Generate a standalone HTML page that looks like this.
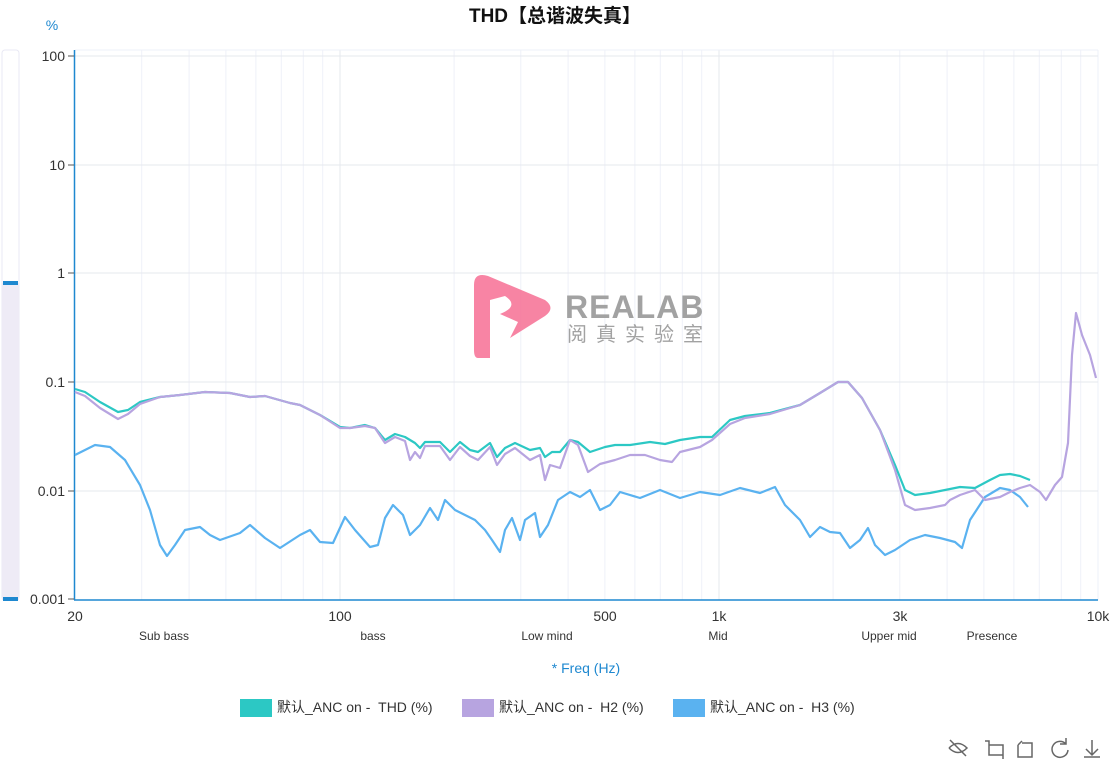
<!DOCTYPE html>
<html><head><meta charset="utf-8"><style>
body{margin:0;background:#fff;font-family:"Liberation Sans","Noto Sans CJK SC",sans-serif;}
</style></head><body>
<svg width="1110" height="767" xmlns="http://www.w3.org/2000/svg" font-family="Liberation Sans, Noto Sans CJK SC, sans-serif">
<text x="555" y="22" text-anchor="middle" font-size="19" font-weight="bold" fill="#111">THD【总谐波失真】</text>
<text x="52" y="30" text-anchor="middle" font-size="14" fill="#1e88d0">%</text>
<rect x="2" y="50" width="17" height="550" rx="3" fill="#fff" stroke="#e8e8f4"/>
<rect x="2" y="283" width="17" height="317" fill="#eeebf6"/>
<rect x="3" y="281" width="15" height="4" fill="#1e88d0"/>
<rect x="3" y="597" width="15" height="4" fill="#1e88d0"/>
<g stroke="#eef1f8" stroke-width="1">
<line x1="141.7" y1="50" x2="141.7" y2="600"/><line x1="189.1" y1="50" x2="189.1" y2="600"/><line x1="225.9" y1="50" x2="225.9" y2="600"/><line x1="255.9" y1="50" x2="255.9" y2="600"/><line x1="281.3" y1="50" x2="281.3" y2="600"/><line x1="303.3" y1="50" x2="303.3" y2="600"/><line x1="322.7" y1="50" x2="322.7" y2="600"/><line x1="340" y1="50" x2="340" y2="600" stroke="#e6e8ee"/>
<line x1="454.1" y1="50" x2="454.1" y2="600"/><line x1="520.8" y1="50" x2="520.8" y2="600"/><line x1="568.1" y1="50" x2="568.1" y2="600"/><line x1="604.9" y1="50" x2="604.9" y2="600"/><line x1="634.9" y1="50" x2="634.9" y2="600"/><line x1="660.3" y1="50" x2="660.3" y2="600"/><line x1="682.3" y1="50" x2="682.3" y2="600"/><line x1="701.7" y1="50" x2="701.7" y2="600"/><line x1="719" y1="50" x2="719" y2="600" stroke="#e6e8ee"/>
<line x1="833.1" y1="50" x2="833.1" y2="600"/><line x1="899.8" y1="50" x2="899.8" y2="600"/><line x1="947.1" y1="50" x2="947.1" y2="600"/><line x1="983.9" y1="50" x2="983.9" y2="600"/><line x1="1013.9" y1="50" x2="1013.9" y2="600"/><line x1="1039.3" y1="50" x2="1039.3" y2="600"/><line x1="1061.3" y1="50" x2="1061.3" y2="600"/><line x1="1080.7" y1="50" x2="1080.7" y2="600"/><line x1="1098" y1="50" x2="1098" y2="600"/>
<line x1="75" y1="56" x2="1098" y2="56" stroke="#e6e8ee"/><line x1="75" y1="165" x2="1098" y2="165" stroke="#e6e8ee"/><line x1="75" y1="273" x2="1098" y2="273" stroke="#e6e8ee"/><line x1="75" y1="382" x2="1098" y2="382" stroke="#e6e8ee"/><line x1="75" y1="491" x2="1098" y2="491" stroke="#e6e8ee"/>
<line x1="75" y1="50" x2="1098" y2="50"/>
</g>
<line x1="74.5" y1="50" x2="74.5" y2="600" stroke="#1e88d0" stroke-width="1.5"/>
<line x1="74" y1="600" x2="1098" y2="600" stroke="#1e88d0" stroke-width="1.5"/>
<g stroke="#555"><line x1="68" y1="56" x2="74" y2="56"/><line x1="68" y1="165" x2="74" y2="165"/><line x1="68" y1="273" x2="74" y2="273"/><line x1="68" y1="382" x2="74" y2="382"/><line x1="68" y1="491" x2="74" y2="491"/><line x1="68" y1="599" x2="74" y2="599"/></g>
<g font-size="14" fill="#333" text-anchor="end">
<text x="65" y="61">100</text><text x="65" y="170">10</text><text x="65" y="278">1</text><text x="65" y="387">0.1</text><text x="65" y="496">0.01</text><text x="65" y="604">0.001</text></g>
<g font-size="14" fill="#333" text-anchor="middle">
<text x="75" y="621">20</text><text x="340" y="621">100</text><text x="605" y="621">500</text><text x="719" y="621">1k</text><text x="900" y="621">3k</text><text x="1098" y="621">10k</text></g>
<g font-size="12" fill="#333" text-anchor="middle">
<text x="164" y="640">Sub bass</text><text x="373" y="640">bass</text><text x="547" y="640">Low mind</text><text x="718" y="640">Mid</text><text x="889" y="640">Upper mid</text><text x="992" y="640">Presence</text></g>
<text x="586" y="673" text-anchor="middle" font-size="14" fill="#1e88d0">* Freq (Hz)</text>
<g opacity="0.9">
<path d="M474 285 Q474 272 488 276 L545 300 Q556 308 545 316 L510 338 L518 322 L500 314 Q520 306 505 296 L490 300 L490 358 L478 358 Q474 358 474 350 Z" fill="#f7779a"/>
<text x="565" y="318" font-size="32" font-weight="bold" fill="#999" letter-spacing="1">REALAB</text>
<text x="567" y="341" font-size="20" fill="#999" letter-spacing="9">阅真实验室</text>
</g>
<g fill="none" stroke-width="2.2" stroke-linejoin="round">
<polyline stroke="#5ab2f0" points="75,455 95,445 110,447 125,460 140,485 150,510 160,545 167,556 175,545 185,530 200,527 210,535 220,540 240,533 250,525 265,538 280,548 300,535 310,530 320,542 333,543 345,517 355,530 370,547 378,545 385,518 393,505 403,515 410,535 420,525 430,508 438,520 445,500 455,510 465,515 475,520 485,530 492,540 500,552 505,530 512,518 520,540 525,520 535,513 540,537 548,525 558,500 570,492 580,497 590,490 600,510 610,505 620,492 640,498 660,490 680,498 700,492 720,495 740,488 760,493 775,487 785,505 800,520 810,537 820,527 830,532 840,533 850,548 860,540 868,528 875,545 885,555 895,550 910,540 925,535 940,538 955,542 962,548 970,520 985,497 1000,488 1010,490 1020,497 1028,507"/>
<polyline stroke="#2cc8c4" points="75,389 85,392 100,402 118,412 128,410 140,402 160,397 180,395 205,392 230,393 250,397 265,396 290,403 300,405 320,415 340,427 350,428 365,425 375,428 385,440 395,434 405,437 415,443 420,448 425,442 440,442 450,452 460,442 470,450 478,452 490,443 497,457 505,448 515,443 530,450 540,448 545,457 552,452 560,452 570,440 578,442 590,452 605,447 615,445 630,445 650,442 665,444 680,440 700,437 712,437 730,420 745,416 770,413 800,405 820,393 838,382 848,382 862,398 880,430 895,465 905,490 915,495 930,493 945,490 960,487 975,488 990,480 1000,475 1010,474 1020,476 1030,480"/>
<polyline stroke="#b7a4e0" points="75,392 85,396 100,408 118,419 128,414 140,404 160,397 180,395 205,392 230,393 250,397 265,396 290,403 300,405 320,415 340,428 350,428 365,426 375,428 385,443 395,437 405,441 410,460 415,452 420,458 425,446 440,446 450,460 460,447 470,456 478,460 490,447 497,465 505,454 515,448 530,460 540,455 545,480 550,465 560,468 570,440 578,445 588,472 600,464 615,460 630,455 645,455 660,460 672,462 680,452 700,447 712,440 730,424 745,418 770,414 800,405 820,393 838,382 848,382 862,398 880,430 895,470 905,505 915,510 930,508 945,505 950,500 960,495 975,490 985,500 1000,497 1010,492 1020,488 1030,485 1040,492 1046,500 1055,485 1062,477 1068,443 1072,355 1076,313 1082,335 1090,355 1096,378"/>
</g>
<g font-size="14" fill="#333">
<rect x="240" y="699" width="32" height="18" fill="#2cc8c4"/><text x="277" y="712">默认_ANC on - &#160;THD (%)</text>
<rect x="462" y="699" width="32" height="18" fill="#b7a4e0"/><text x="499" y="712">默认_ANC on - &#160;H2 (%)</text>
<rect x="673" y="699" width="32" height="18" fill="#5ab2f0"/><text x="710" y="712">默认_ANC on - &#160;H3 (%)</text>
</g>
<g fill="none" stroke="#666" stroke-width="1.5">
<path d="M949 748 Q958 739 967 748 Q958 757 949 748"/><line x1="950" y1="740" x2="966" y2="756"/>
<path d="M985 741 h4 v14 h14 M989 745 h14 v14"/>
<path d="M1018 745 v12 h14 v-14 h-10 M1018 745 l4 -4"/>
<path d="M1066 744 a8 8 0 1 0 2 6 M1066 738 v6 h-6"/>
<path d="M1092 740 v14 M1086 749 l6 6 l6 -6 M1084 757 h16"/>
</g>
</svg>
</body></html>
